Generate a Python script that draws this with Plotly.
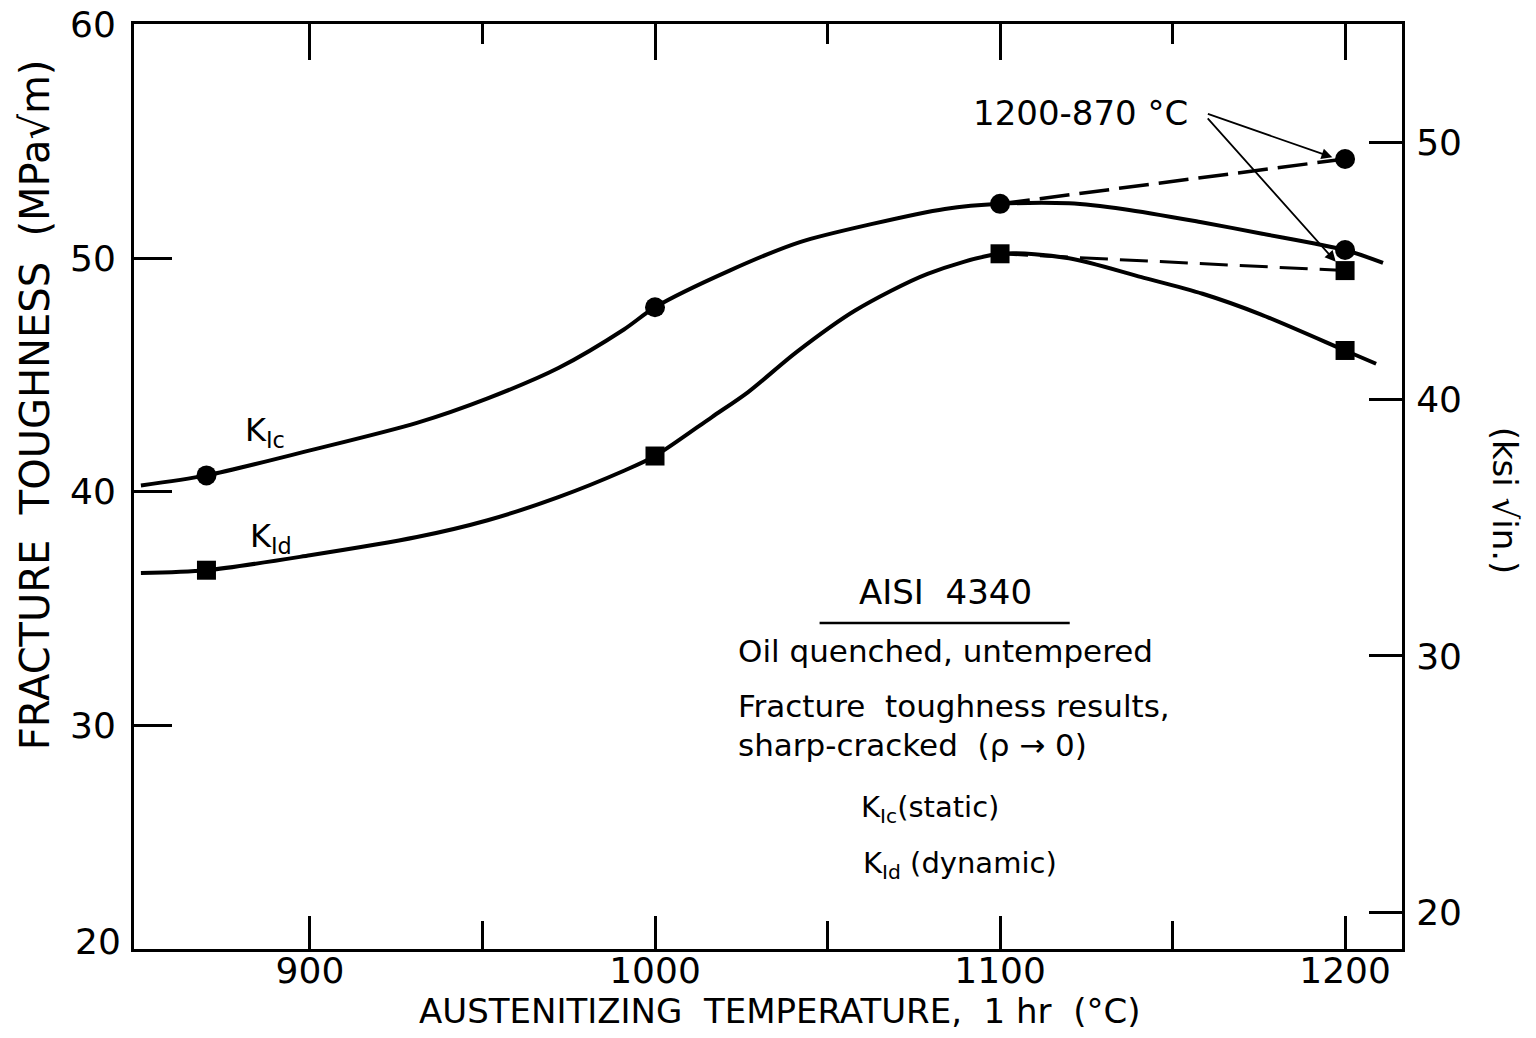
import plotly.graph_objects as go

# ---- data ----
temps = [870, 1000, 1100, 1200]
kic_points = [40.7, 47.9, 52.33, 50.35]
kid_points = [36.64, 41.53, 50.19, 46.05]
step_temp = [1200]          # 1200-870 °C step treatment
kic_step = [54.25]
kid_step = [49.47]

kic_curve_t = [851, 870, 900, 931, 951.5, 972, 991, 1000, 1021.6, 1042, 1063, 1084, 1100, 1120, 1136, 1158, 1176, 1200, 1211]
kic_curve_v = [40.27, 40.7, 41.77, 42.95, 44.0, 45.3, 46.95, 47.9, 49.47, 50.69, 51.47, 52.11, 52.33, 52.35, 52.1, 51.55, 51.05, 50.35, 49.8]

kid_curve_t = [851, 870, 900, 931, 951.5, 972, 991, 1000, 1016.5, 1027, 1041, 1058, 1079, 1100, 1120, 1141, 1158.7, 1175.5, 1200, 1209]
kid_curve_v = [36.52, 36.64, 37.28, 38.06, 38.78, 39.77, 40.9, 41.53, 43.2, 44.27, 45.98, 47.76, 49.33, 50.19, 50.0, 49.19, 48.48, 47.6, 46.05, 45.48]

x_major = [900, 1000, 1100, 1200]
x_minor = [950, 1050, 1150]
y_left_ticks = [30, 40, 50, 60]
y_right_ticks = [20, 30, 40, 50]

FONT = "DejaVu Sans"
BLACK = "black"

fig = go.Figure()

fig.add_trace(go.Scatter(x=kic_curve_t, y=kic_curve_v, mode="lines",
                         line=dict(color=BLACK, width=4, shape="spline", smoothing=0.8),
                         showlegend=False, hoverinfo="skip"))
fig.add_trace(go.Scatter(x=kid_curve_t, y=kid_curve_v, mode="lines",
                         line=dict(color=BLACK, width=4, shape="spline", smoothing=0.8),
                         showlegend=False, hoverinfo="skip"))

# dashed lines to the step-treatment points
fig.add_trace(go.Scatter(x=[temps[2]] + step_temp, y=[kic_points[2]] + kic_step, mode="lines",
                         line=dict(color=BLACK, width=3.5, dash="30px,10px"),
                         showlegend=False, hoverinfo="skip"))
fig.add_trace(go.Scatter(x=[temps[2]] + step_temp, y=[kid_points[2]] + kid_step, mode="lines",
                         line=dict(color=BLACK, width=3, dash="28px,12px"),
                         showlegend=False, hoverinfo="skip"))

fig.add_trace(go.Scatter(x=temps + step_temp, y=kic_points + kic_step, mode="markers",
                         marker=dict(symbol="circle", size=20, color=BLACK),
                         name="KIc (static)", showlegend=False))
fig.add_trace(go.Scatter(x=temps + step_temp, y=kid_points + kid_step, mode="markers",
                         marker=dict(symbol="square", size=19, color=BLACK),
                         name="KId (dynamic)", showlegend=False))

# invisible trace for the top / right axes
fig.add_trace(go.Scatter(x=[1000], y=[30], xaxis="x2", yaxis="y2", mode="markers",
                         marker=dict(opacity=0), showlegend=False, hoverinfo="skip"))

XR = [849, 1216.5]
axis_common = dict(showline=True, linewidth=3, linecolor=BLACK, showgrid=False, zeroline=False,
                   automargin=False, ticklabeloverflow="allow",
                   ticks="inside", tickcolor=BLACK, tickwidth=2.5,
                   tickfont=dict(family=FONT, size=36, color=BLACK))

# the page body has an 8px margin, so the figure is 16px smaller than the window
fig.update_layout(
    width=1520, height=1022,
    margin=dict(l=126, r=126, t=16, b=81, autoexpand=False),
    paper_bgcolor="white", plot_bgcolor="white",
    font=dict(family=FONT, color=BLACK),
    xaxis=dict(range=XR, tickmode="array", tickvals=x_major, ticklen=33,
               ticklabelstandoff=-12,
               minor=dict(tickmode="array", tickvals=x_minor, ticks="inside", ticklen=28,
                          tickwidth=2.5, tickcolor=BLACK),
               **axis_common),
    xaxis2=dict(range=XR, overlaying="x", side="top", tickmode="array", tickvals=x_major,
                ticklen=36, showticklabels=False,
                minor=dict(tickmode="array", tickvals=x_minor, ticks="inside", ticklen=20,
                           tickwidth=2.5, tickcolor=BLACK),
                **axis_common),
    yaxis=dict(range=[20.42, 60.03], tickmode="array", tickvals=y_left_ticks, ticklen=38,
               ticklabelstandoff=8, **axis_common),
    yaxis2=dict(range=[18.58, 54.63], overlaying="y", side="right", tickmode="array",
                tickvals=y_right_ticks, ticklen=33, ticklabelstandoff=4, **axis_common),
)
fig.update_xaxes(tickfont_size=35, selector=dict(anchor="y"))

ann = []
# axis titles
ann.append(dict(text="FRACTURE  TOUGHNESS  (MPa√m)", xref="paper", yref="paper",
                x=-0.078, y=0.588, xanchor="center", yanchor="middle", textangle=-90,
                showarrow=False, font=dict(family=FONT, size=40, color=BLACK)))
ann.append(dict(text="AUSTENITIZING  TEMPERATURE,  1 hr  (°C)", xref="paper", yref="paper",
                x=0.509, y=-0.0670, xanchor="center", yanchor="middle", showarrow=False,
                borderpad=0, font=dict(family=FONT, size=34, color=BLACK)))
ann.append(dict(text="(ksi √in.)", xref="paper", yref="paper",
                x=1.081, y=0.485, xanchor="center", yanchor="middle", textangle=90,
                showarrow=False, font=dict(family=FONT, size=34, color=BLACK)))
# bottom-left "20" label at the corner
ann.append(dict(text="20", xref="paper", yref="paper", x=-0.009, y=0.008,
                xanchor="right", yanchor="middle", showarrow=False,
                font=dict(family=FONT, size=36, color=BLACK)))

# curve labels
ann.append(dict(text="K<sub>Ic</sub>", x=880.7, y=42.55, xanchor="left", yanchor="middle",
                showarrow=False, font=dict(family=FONT, size=32, color=BLACK)))
ann.append(dict(text="K<sub>Id</sub>", x=881.9, y=38.0, xanchor="left", yanchor="middle",
                showarrow=False, font=dict(family=FONT, size=32, color=BLACK)))

# step-treatment label with arrows
ann.append(dict(text="1200-870 °C", x=1091.5, y=56.23, xanchor="left", yanchor="middle",
                showarrow=False, font=dict(family=FONT, size=34, color=BLACK)))
ann.append(dict(text="", x=1196.3, y=54.32, ax=1159.8, ay=56.2, axref="x", ayref="y",
                showarrow=True, arrowhead=2, arrowsize=1.2, arrowwidth=1.8, arrowcolor=BLACK))
ann.append(dict(text="", x=1197.3, y=49.85, ax=1159.8, ay=56.05, axref="x", ayref="y",
                showarrow=True, arrowhead=2, arrowsize=1.2, arrowwidth=1.8, arrowcolor=BLACK))

# description block
ann.append(dict(text="AISI  4340", x=1084.2, y=35.7, xanchor="center", yanchor="middle",
                showarrow=False, font=dict(family=FONT, size=34, color=BLACK)))
for txt, yy in [("Oil quenched, untempered", 33.17),
                ("Fracture  toughness results,", 30.82),
                ("sharp-cracked  (ρ → 0)", 29.15)]:
    ann.append(dict(text=txt, x=1023.6, y=yy, xanchor="left", yanchor="middle",
                    showarrow=False, font=dict(family=FONT, size=31, color=BLACK)))
ann.append(dict(text="K<sub>Ic</sub>(static)", x=1059, y=26.4, xanchor="left", yanchor="middle",
                showarrow=False, font=dict(family=FONT, size=29, color=BLACK)))
ann.append(dict(text="K<sub>Id</sub> (dynamic)", x=1059.6, y=24.0, xanchor="left", yanchor="middle",
                showarrow=False, font=dict(family=FONT, size=29, color=BLACK)))

fig.update_layout(annotations=ann)

# underline of the title "AISI 4340"
fig.add_shape(type="line", x0=1047.7, x1=1120.2, y0=34.38, y1=34.38, xref="x", yref="y",
              line=dict(color=BLACK, width=2.5))

fig.write_html("out.html")
